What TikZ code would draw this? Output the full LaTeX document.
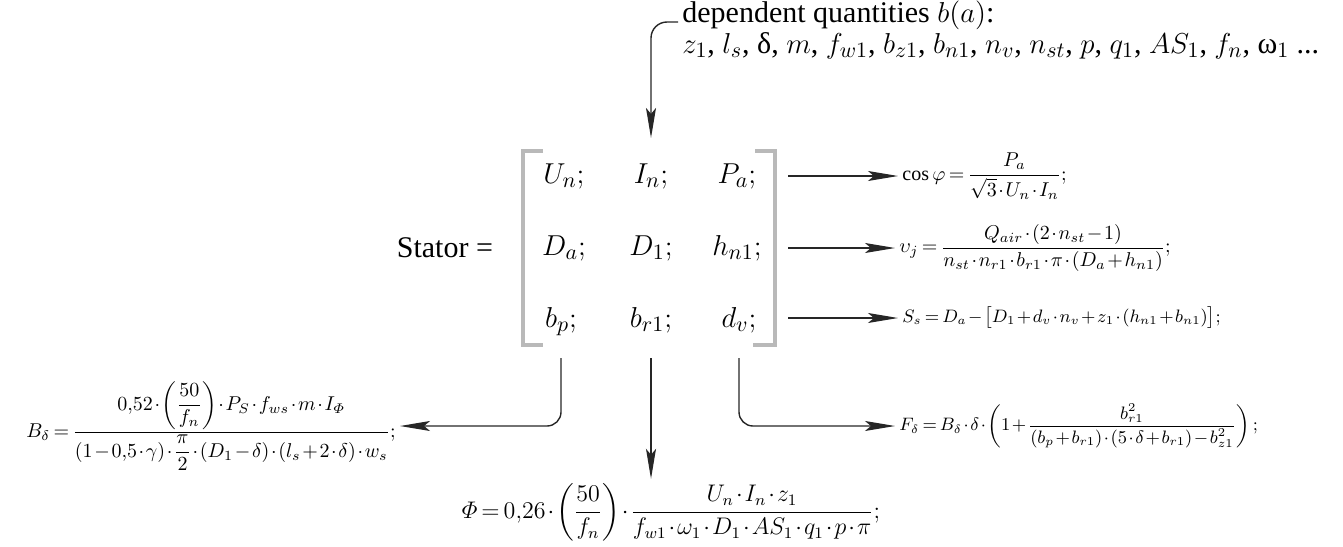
\documentclass[tikz,border=0pt]{standalone}
\usepackage{amsmath}
\usepackage{fontspec}
\setmainfont{Liberation Serif}
\usetikzlibrary{positioning,arrows.meta,calc}

\begin{document}
\begin{tikzpicture}[
  x=0.5pt, y=-0.5pt,
  ent/.style={font=\rmfamily\fontsize{15}{18}\selectfont, anchor=base, text height=11pt, text depth=4pt},
  lbl/.style={font=\rmfamily\fontsize{15}{18}\selectfont, inner sep=2pt},
  fml/.style={font=\fontsize{#1}{12}\selectfont, inner sep=2pt,
    execute at begin node={\medmuskip=1.5mu\thickmuskip=3mu}},
  fml/.default=10,
  brk/.style={draw=gray!55, line width=1.8pt},
  arr/.style={-{Stealth[length=15pt,width=5pt,inset=3pt]}, line width=0.7pt, black!85},
]
\useasboundingbox (0,0) rectangle (1343,546);
\node[lbl, anchor=base west] (dep) at (678,22) {dependent quantities $b(a)$:};
\node[lbl, anchor=base west] (deps) at (678,53) {$z_1$, $l_s$, δ, $m$, $f_{w1}$, $b_{z1}$, $b_{n1}$, $n_v$, $n_{st}$, $p$, $q_1$, $AS_1$, $f_n$, ω$_1$ ...};
\node[ent] (un) at (564,183) {$U_n;$};
\node[ent] (in) at (651,183) {$I_n;$};
\node[ent] (pa) at (737,183) {$P_a;$};
\node[ent] (da) at (564,255) {$D_a;$};
\node[ent] (d1) at (651,255) {$D_1;$};
\node[ent] (hn) at (737,255) {$h_{n1};$};
\node[ent] (bp) at (561,327) {$b_p;$};
\node[ent] (br) at (651,327) {$b_{r1};$};
\node[ent] (dv) at (739,327) {$d_v;$};
\node[ent, anchor=base east] (stator) at (500,257) {Stator =};
\draw[brk] (543,151) -- (523,151) -- (523,345) -- (543,345);
\draw[brk] (755,151) -- (775,151) -- (775,345) -- (753,345);
\node[fml, anchor=west] (cosphi) at (898,176) {$\cos\varphi=\dfrac{P_a}{\sqrt{3}\cdot U_n\cdot I_n};$};
\node[fml, anchor=west] (vj) at (895,248) {$\upsilon_j=\dfrac{Q_{air}\cdot(2\cdot n_{st}-1)}{n_{st}\cdot n_{r1}\cdot b_{r1}\cdot\pi\cdot(D_a+h_{n1})};$};
\node[fml=9, anchor=west] (ss) at (898,318) {$S_s=D_a-\bigl[D_1+d_v\cdot n_v+z_1\cdot(h_{n1}+b_{n1})\bigr];$};
\node[fml=9, anchor=west] (fd) at (895,426) {$F_\delta=B_\delta\cdot\delta\cdot\left(1+\dfrac{b_{r1}^2}{(b_p+b_{r1})\cdot(5\cdot\delta+b_{r1})-b_{z1}^2}\right);$};
\node[fml, anchor=east] (bd) at (400,426) {$B_\delta=\dfrac{0{,}52\cdot\left(\dfrac{50}{f_n}\right)\cdot P_S\cdot f_{ws}\cdot m\cdot I_{\varPhi}}{(1-0{,}5\cdot\gamma)\cdot\dfrac{\pi}{2}\cdot(D_1-\delta)\cdot(l_s+2\cdot\delta)\cdot w_s};$};
\node[fml=11.5] (phi) at (671,512) {$\varPhi=0{,}26\cdot\left(\dfrac{50}{f_n}\right)\cdot\dfrac{U_n\cdot I_n\cdot z_1}{f_{w1}\cdot\omega_1\cdot D_1\cdot AS_1\cdot q_1\cdot p\cdot\pi};$};
\coordinate (rb) at (788,0);
\draw[arr] (rb |- cosphi.west) -- (cosphi.west);
\draw[arr] (rb |- vj.west) -- (vj.west);
\draw[arr] (rb |- ss.west) -- (ss.west);
\draw[arr, rounded corners=8pt, shorten >=8pt] (dep.base west) -| (in.north);
\draw[arr, rounded corners=7pt, shorten <=8pt] (bp.south) |- (bd.east);
\draw[arr, shorten <=8pt] (br.south) -- (br.south |- phi.north);
\draw[arr, rounded corners=7pt, shorten <=8pt] (dv.south) |- (fd.west);
\end{tikzpicture}
\end{document}
